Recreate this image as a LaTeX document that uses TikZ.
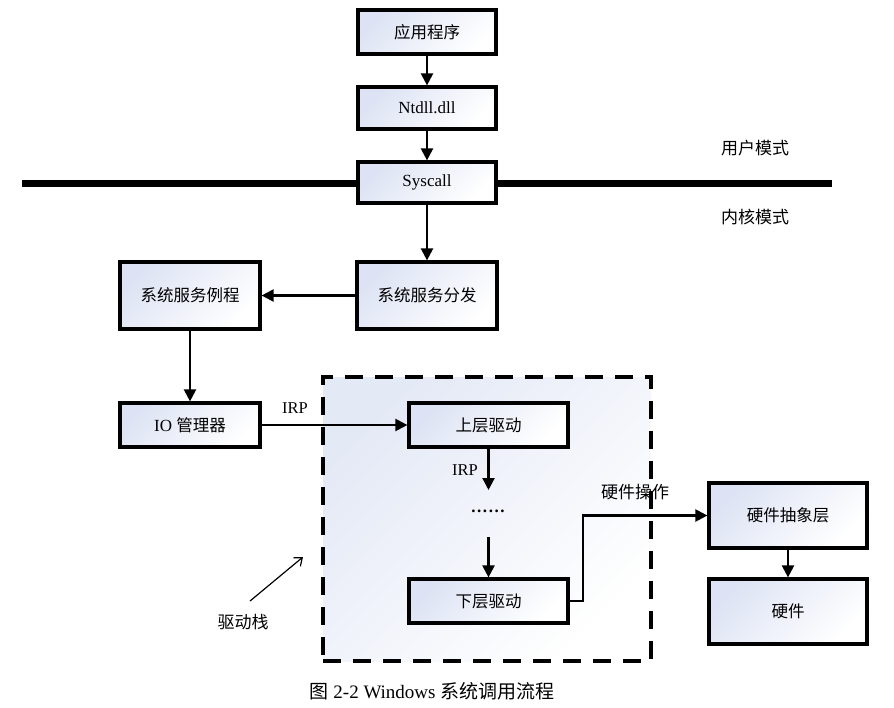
\documentclass[tikz,border=0pt]{standalone}
\usepackage{fontspec}
\setmainfont{Liberation Serif}
\newfontfamily\cjk{Noto Sans CJK SC}
\usetikzlibrary{arrows.meta}
\definecolor{boxblue}{HTML}{DDE3F4}
\definecolor{stackblue}{HTML}{E4E9F6}
\tikzset{
  box/.style={draw=black, line width=3.2pt, top color=boxblue, bottom color=white, shading angle=45,
              inner sep=0pt, align=center, font=\fontsize{16.5}{18}\selectfont},
  arr/.style={line width=2.2pt, -{Triangle[length=12pt,width=12pt]}},
  lbl/.style={inner sep=0pt, font=\fontsize{16.5}{18}\selectfont},
  modelbl/.style={inner sep=0pt, font=\fontsize{17}{19}\selectfont\cjk},
}
\begin{document}
\begin{tikzpicture}[x=1pt,y=-1pt]
\useasboundingbox (0,0) rectangle (894,707);
% user / kernel separator
\coordinate (sepL) at (22,183);
\coordinate (sepR) at (832,183);
\draw[line width=7pt] (sepL) -- (sepR);
% driver stack region
\node[draw=black, line width=3.2pt, dash pattern=on 18pt off 12pt, top color=stackblue, bottom color=white,
      shading angle=45, minimum width=328pt, minimum height=284pt, inner sep=0pt] (stack) at (487,519) {};
% boxes
\node[box, minimum width=138pt, minimum height=44pt] (app) at (427,32) {\cjk 应用程序};
\node[box, minimum width=138pt, minimum height=42pt] (ntdll) at (427,108) {\fontsize{17}{19}\selectfont Ntdll.dll};
\node[box, minimum width=138pt, minimum height=41pt] (sys) at (427,182.5) {\fontsize{17}{19}\selectfont Syscall};
\node[box, minimum width=140pt, minimum height=67pt] (disp) at (427,295.5) {\cjk 系统服务分发};
\node[box, minimum width=140pt, minimum height=67pt] (routine) at (190,295.5) {\cjk 系统服务例程};
\node[box, minimum width=140pt, minimum height=44pt] (io) at (190,425) {\fontsize{17}{19}\selectfont IO {\fontsize{16.5}{18}\selectfont\cjk 管理器}};
\node[box, minimum width=159pt, minimum height=44pt] (upper) at (488.5,425) {\cjk 上层驱动};
\node[box, minimum width=159pt, minimum height=44pt] (lower) at (488.5,601) {\cjk 下层驱动};
\node[box, minimum width=158pt, minimum height=65pt] (hal) at (788,515.5) {\cjk 硬件抽象层};
\node[box, minimum width=158pt, minimum height=65pt] (hw) at (788,611.5) {\cjk 硬件};
% labels
\node[modelbl] (user) at (755,148) {用户模式};
\node[modelbl] (kernel) at (755,217) {内核模式};
\node[lbl] (irp1) at (295,408) {IRP};
\node[lbl] (irp2) at (465,470) {IRP};
\node[lbl, font=\bfseries\fontsize{17}{19}\selectfont] (dots) at (488,511) {.\kern1.6pt.\kern1.6pt.\kern1.6pt.\kern1.6pt.\kern1.6pt.};
\node[modelbl] (hwop) at (635,492) {硬件操作};
\node[modelbl] (stacklbl) at (243,622) {驱动栈};
\node[inner sep=0pt, font=\fontsize{19}{21}\selectfont] (caption) at (432,691) {{\cjk 图} 2-2 Windows {\cjk 系统调用流程}};
% connectors
\coordinate (irpEnd) at (488.5,490);
\coordinate (dotsBelow) at (488.5,537);
\coordinate (bend) at (583,515.5);
\coordinate (stackArrS) at (250,601);
\coordinate (stackArrE) at (303,557);
\draw[arr] (app) -- (ntdll);
\draw[arr] (ntdll) -- (sys);
\draw[arr] (sys) -- (disp);
\draw[arr] (disp) -- (routine);
\draw[arr] (routine) -- (io);
\draw[arr] (io) -- (upper);
\draw[arr] (upper) -- (irpEnd);
\draw[arr] (dotsBelow) -- (lower);
\draw[arr] (lower.east) -| (bend) -- (hal.west);
\draw[arr] (hal) -- (hw);
\draw[line width=1.2pt, -{Straight Barb[length=7pt,width=11pt]}] (stackArrS) -- (stackArrE);
\end{tikzpicture}
\end{document}
